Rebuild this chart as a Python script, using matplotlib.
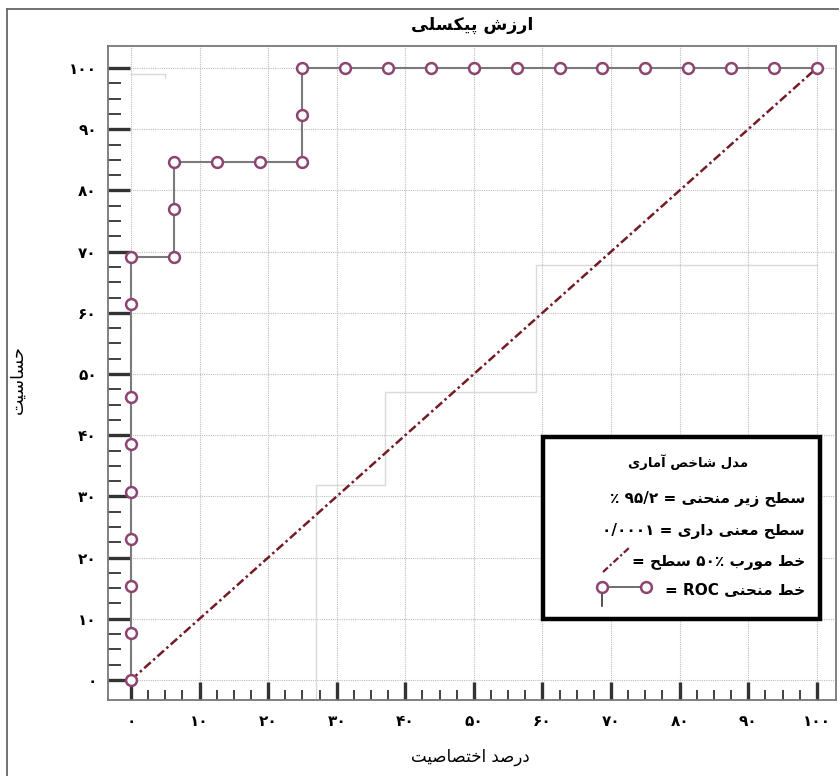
import matplotlib
matplotlib.use("Agg")
import matplotlib.pyplot as plt
from matplotlib.lines import Line2D
from matplotlib.patches import Rectangle

plt.rcParams['font.family'] = ['DejaVu Sans']

# ---------------- data ----------------
roc_fpr = [0, 0, 0, 0, 0, 0, 0, 0, 0,
           6.25, 6.25, 6.25, 12.5, 18.75, 25, 25, 25,
           31.25, 37.5, 43.75, 50, 56.25, 62.5, 68.75, 75, 81.25, 87.5, 93.75, 100]
roc_sens = [0, 7.7, 15.4, 23.1, 30.8, 38.5, 46.2, 61.5, 69.2,
            69.2, 76.9, 84.6, 84.6, 84.6, 84.6, 92.3, 100,
            100, 100, 100, 100, 100, 100, 100, 100, 100, 100, 100, 100]
diag_x = [0, 100]
diag_y = [0, 100]
faint_x = [27, 27, 37, 37, 59, 59, 100]
faint_y = [-3.3, 31.9, 31.9, 47.1, 47.1, 67.8, 67.8]
faint2_x = [0, 5, 5]
faint2_y = [99, 99, 98.3]
tick_values = [0, 10, 20, 30, 40, 50, 60, 70, 80, 90, 100]
tick_labels = ['۰', '۱۰', '۲۰', '۳۰', '۴۰', '۵۰', '۶۰', '۷۰', '۸۰', '۹۰', '۱۰۰']

title_txt = 'ارزش پیکسلی'
xlabel_txt = 'درصد اختصاصیت'
ylabel_txt = 'حساسیت'
leg_title = 'مدل شاخص آماری'
leg_auc_label = 'سطح زیر منحنی'
leg_auc_value = '٪ ۹۵/۲'
leg_sig_label = 'سطح معنی داری'
leg_sig_value = '۰/۰۰۰۱'
leg_diag_a = 'خط مورب'
leg_diag_pct = '۵۰٪'
leg_diag_b = 'سطح'
leg_roc_label = 'خط منحنی'

# ---------------- simple Persian shaping ----------------
FORMS = {
    '\u0627': ('\uFE8D', '\uFE8E', None, None),
    '\u0622': ('\uFE81', '\uFE82', None, None),
    '\u0628': ('\uFE8F', '\uFE90', '\uFE91', '\uFE92'),
    '\u067E': ('\uFB56', '\uFB57', '\uFB58', '\uFB59'),
    '\u062A': ('\uFE95', '\uFE96', '\uFE97', '\uFE98'),
    '\u062D': ('\uFEA1', '\uFEA2', '\uFEA3', '\uFEA4'),
    '\u062E': ('\uFEA5', '\uFEA6', '\uFEA7', '\uFEA8'),
    '\u062F': ('\uFEA9', '\uFEAA', None, None),
    '\u0631': ('\uFEAD', '\uFEAE', None, None),
    '\u0632': ('\uFEAF', '\uFEB0', None, None),
    '\u0633': ('\uFEB1', '\uFEB2', '\uFEB3', '\uFEB4'),
    '\u0634': ('\uFEB5', '\uFEB6', '\uFEB7', '\uFEB8'),
    '\u0635': ('\uFEB9', '\uFEBA', '\uFEBB', '\uFEBC'),
    '\u0637': ('\uFEC1', '\uFEC2', '\uFEC3', '\uFEC4'),
    '\u0639': ('\uFEC9', '\uFECA', '\uFECB', '\uFECC'),
    '\u06A9': ('\uFB8E', '\uFB8F', '\uFB90', '\uFB91'),
    '\u0644': ('\uFEDD', '\uFEDE', '\uFEDF', '\uFEE0'),
    '\u0645': ('\uFEE1', '\uFEE2', '\uFEE3', '\uFEE4'),
    '\u0646': ('\uFEE5', '\uFEE6', '\uFEE7', '\uFEE8'),
    '\u0648': ('\uFEED', '\uFEEE', None, None),
    '\u06CC': ('\uFBFC', '\uFBFD', '\uFBFE', '\uFBFF'),
}


def shape(s):
    s = s.replace('\u064A', '\u06CC').replace('\u0643', '\u06A9')
    out = []
    for i, c in enumerate(s):
        if c not in FORMS:
            out.append(c)
            continue
        prev = s[i - 1] if i > 0 else ''
        nxt = s[i + 1] if i + 1 < len(s) else ''
        f = FORMS[c]
        jp = prev in FORMS and FORMS[prev][2] is not None
        jn = f[2] is not None and nxt in FORMS
        if jp and jn:
            g = f[3]
        elif jp:
            g = f[1]
        elif jn:
            g = f[2]
        else:
            g = f[0]
        out.append(g)
    return ''.join(reversed(out))


# ---------------- figure ----------------
W, H = 840, 776
fig = plt.figure(figsize=(W / 100, H / 100), dpi=100)


def fx(px):
    return px / W


def fy(py):
    return 1 - py / H


ax = fig.add_axes([fx(108), fy(700), fx(836) - fx(108), fy(46) - fy(700)])
ax.set_xlim(-3.35, 102.8)
ax.set_ylim(-3.27, 103.6)

ax.set_axisbelow(True)
ax.grid(True, which='major', linestyle=(0, (1, 1)), color='#bdbdbd', linewidth=0.8)

ax.plot(faint_x, faint_y, color='#dadada', lw=1.0, zorder=1)
ax.plot(faint2_x, faint2_y, color='#dadada', lw=1.0, zorder=1)
ax.plot(diag_x, diag_y, color='#731C26', lw=1.8, linestyle=(0, (3.5, 1.3, 1, 1.3)), zorder=3)
ax.plot(roc_fpr, roc_sens, color='#7a7a7a', lw=1.5, marker='o', ms=7.8,
        mfc='white', mec='#8E4470', mew=1.8, zorder=4, clip_on=False)

ax.set_xticks(tick_values)
ax.set_yticks(tick_values)
ax.set_xticklabels(tick_labels, fontsize=11, fontweight='bold')
ax.set_yticklabels(tick_labels, fontsize=11, fontweight='bold')
minor = [v + d for v in tick_values[:-1] for d in (2.5, 5, 7.5)]
ax.set_xticks(minor, minor=True)
ax.set_yticks(minor, minor=True)
ax.tick_params(axis='x', which='major', direction='in', length=13, width=2.4,
               color='#333333', pad=10)
ax.tick_params(axis='x', which='minor', direction='in', length=7, width=1.3,
               color='#333333')
ax.tick_params(axis='y', which='major', direction='in', length=16, width=2.4,
               color='#333333', pad=8)
ax.tick_params(axis='y', which='minor', direction='in', length=9.5, width=1.3,
               color='#333333')
for sp in ax.spines.values():
    sp.set_color('#777777')
    sp.set_linewidth(1.3)

# outer frame
fig.add_artist(Line2D([fx(7), fx(7)], [fy(9), fy(780)], color='#666666', lw=1.3))
fig.add_artist(Line2D([fx(7), fx(838)], [fy(9), fy(9)], color='#666666', lw=1.3))

# title and axis labels
fig.text(fx(472), fy(25), shape(title_txt), ha='center', va='center',
         fontsize=12.5, fontweight='bold')
fig.text(fx(470), fy(757), shape(xlabel_txt), ha='center', va='center', fontsize=12)
fig.text(fx(18), fy(380), shape(ylabel_txt), ha='center', va='center',
         fontsize=12.5, rotation=90)

# legend box
fig.add_artist(Rectangle((fx(543), fy(619)), fx(820) - fx(543), fy(437) - fy(619),
                         facecolor='white', edgecolor='black', lw=3.2, zorder=5))
fig.text(fx(688), fy(462), shape(leg_title), ha='center', va='center',
         fontsize=9.5, fontweight='bold', zorder=6)
rx = fx(805)
fs = 11
fig.text(rx, fy(499), leg_auc_value + ' = ' + shape(leg_auc_label), ha='right',
         va='center', fontsize=fs, fontweight='bold', zorder=6)
fig.text(rx, fy(531), leg_sig_value + ' = ' + shape(leg_sig_label), ha='right',
         va='center', fontsize=fs, fontweight='bold', zorder=6)
fig.text(rx, fy(562), '= ' + shape(leg_diag_b) + ' ' + leg_diag_pct + ' ' + shape(leg_diag_a),
         ha='right', va='center', fontsize=fs, fontweight='bold', zorder=6)
fig.text(rx, fy(590), '= ROC ' + shape(leg_roc_label), ha='right', va='center',
         fontsize=fs, fontweight='bold', zorder=6)
fig.add_artist(Line2D([fx(603), fx(630)], [fy(572), fy(547)], color='#731C26', lw=1.6,
                      linestyle=(0, (3, 1.2, 1, 1.2)), zorder=6))
fig.add_artist(Line2D([fx(602), fx(602)], [fy(592), fy(606)], color='#333333', lw=1.2, zorder=6))
fig.add_artist(Line2D([fx(602), fx(646)], [fy(587), fy(587)], color='#555555', lw=1.2,
                      marker='o', ms=7.8, mfc='white', mec='#8E4470', mew=1.8, zorder=7))

fig.savefig('out.png', dpi=100)
